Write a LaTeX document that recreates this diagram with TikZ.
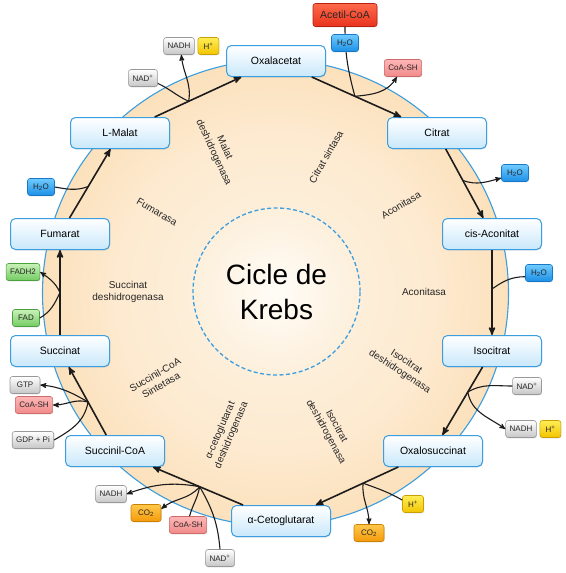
\documentclass[tikz,border=0pt]{standalone}
\usepackage{fontspec}
\setmainfont{Liberation Sans}
\usepackage{tikz}
\usetikzlibrary{positioning, arrows, calc, shadows}

\definecolor{ringline}{HTML}{3A9EE0}
\definecolor{ringpale}{HTML}{FEF4E4}
\definecolor{ringmid}{HTML}{FDEAD0}
\definecolor{ringedge}{HTML}{F8C47C}
\definecolor{krebsin}{HTML}{FFFCF7}
\definecolor{krebsout}{HTML}{FDF0DC}
\definecolor{boxbot}{HTML}{C9E8FB}
\definecolor{arrowcol}{HTML}{1C1C1C}
\definecolor{graybot}{HTML}{C6C6C6}
\definecolor{grayrim}{HTML}{999999}
\definecolor{bluetop}{HTML}{6FCBFF}
\definecolor{bluebot}{HTML}{1C8FE6}
\definecolor{bluerim}{HTML}{1878C8}
\definecolor{redtop}{HTML}{FF6A4A}
\definecolor{redbot}{HTML}{E8321E}
\definecolor{redrim}{HTML}{B82010}
\definecolor{pinktop}{HTML}{FFB6B6}
\definecolor{pinkbot}{HTML}{F08A8A}
\definecolor{pinkrim}{HTML}{D06A6A}
\definecolor{yeltop}{HTML}{FFEE55}
\definecolor{yelbot}{HTML}{F2C400}
\definecolor{yelrim}{HTML}{C8A000}
\definecolor{greentop}{HTML}{C8F2B8}
\definecolor{greenbot}{HTML}{74CC62}
\definecolor{greenrim}{HTML}{4CA040}
\definecolor{orantop}{HTML}{FFC84A}
\definecolor{oranbot}{HTML}{F59A0A}
\definecolor{oranrim}{HTML}{CC8000}

\pgfdeclareradialshading{ringfill}{\pgfpoint{0bp}{0bp}}{%
  color(0bp)=(ringpale); color(17bp)=(ringmid); color(50bp)=(ringedge)}

\tikzset{
x=1pt, y=1pt, % one unit is one pixel of the drawing
>=stealth', % filled arrow heads
metab/.style={draw=ringline, line width=1pt, rounded corners=5pt, top color=white, bottom color=boxbot, minimum width=99pt, minimum height=31pt, font=\fontsize{10.5}{12}\selectfont, drop shadow={shadow xshift=0.6pt, shadow yshift=-0.9pt, opacity=0.3}}, % boxes on the ring
tag/.style={line width=0.6pt, rounded corners=2.5pt, minimum width=27pt, minimum height=17pt, inner xsep=4pt, inner ysep=0pt, text=black!85, font=\fontsize{8}{9}\selectfont, drop shadow={shadow xshift=0.5pt, shadow yshift=-0.8pt, opacity=0.3}}, % small molecules
graytag/.style={tag, draw=grayrim, top color=white, bottom color=graybot},
bluetag/.style={tag, draw=bluerim, top color=bluetop, bottom color=bluebot},
redtag/.style={tag, draw=redrim, top color=redtop, bottom color=redbot},
pinktag/.style={tag, draw=pinkrim, top color=pinktop, bottom color=pinkbot},
yeltag/.style={tag, draw=yelrim, top color=yeltop, bottom color=yelbot, minimum width=21pt},
greentag/.style={tag, draw=greenrim, top color=greentop, bottom color=greenbot},
orantag/.style={tag, draw=oranrim, top color=orantop, bottom color=oranbot, minimum width=30pt},
enz/.style={align=center, text=black!85, font=\fontsize{10}{12}\selectfont}, % enzyme names
main/.style={->, draw=arrowcol, line width=1.6pt}, % steps of the cycle
side/.style={draw=arrowcol, line width=1.1pt}, % molecules going in and out
}

\begin{document}
\begin{tikzpicture}
\useasboundingbox (0,0) rectangle (565,-573);

% ring and centre
\shadedraw[shading=ringfill, draw=ringline, line width=1.1pt] (275.5,-293) circle[radius=233pt];
\node[circle, draw=ringline, dash pattern=on 4pt off 2.5pt, line width=1.3pt, inner color=krebsin, outer color=krebsout,
      minimum size=167pt, align=center, font=\fontsize{28}{35}\selectfont] (krebs) at (276.5,-291.5) {Cicle de\\Krebs};

% enzymes
\node[enz, rotate=-65] (malatdh) at (219,-150) {Malat\\deshidrogenasa};
\node[enz, rotate=60] (citsin) at (326,-157) {Citrat sintasa};
\node[enz, rotate=30] (aconA) at (401,-205) {Aconitasa};
\node[enz] (aconB) at (424,-292) {Aconitasa};
\node[enz, rotate=-33] (isodhA) at (403,-367) {Isocitrat\\deshidrogenasa};
\node[enz, rotate=-61] (isodhB) at (331,-429) {Isocitrat\\deshidrogenasa};
\node[enz, rotate=67] (akgdh) at (226,-433) {α-cetoglutarat\\deshidrogenasa};
\node[enz, rotate=30] (succsyn) at (158,-380) {Succinil-CoA\\Sintetasa};
\node[enz] (succdh) at (128,-292) {Succinat\\deshidrogenasa};
\node[enz, rotate=-30] (fumarasa) at (157,-212) {Fumarasa};

% metabolites
\node[metab] (oxal) at (276,-61) {Oxalacetat};
\node[metab] (citr) at (437,-133) {Citrat};
\node[metab] (cisac) at (492,-234) {cis-Aconitat};
\node[metab] (isoc) at (492,-351) {Isocitrat};
\node[metab] (oxsuc) at (433,-451) {Oxalosuccinat};
\node[metab] (akg) at (281,-521) {α-Cetoglutarat};
\node[metab] (succoa) at (115,-451) {Succinil-CoA};
\node[metab] (succ) at (60,-351) {Succinat};
\node[metab] (fum) at (60,-234) {Fumarat};
\node[metab] (lmal) at (120,-133) {L-Malat};

\draw[main] (oxal) -- (citr);
\draw[main] (citr) -- (cisac);
\draw[main] (cisac) -- (isoc);
\draw[main] (isoc) -- (oxsuc);
\draw[main] (oxsuc) -- (akg);
\draw[main] (akg) -- (succoa);
\draw[main] (succoa) -- (succ);
\draw[main] (succ) -- (fum);
\draw[main] (fum) -- (lmal);
\draw[main] (lmal) -- (oxal);

% branch points
\coordinate (b1) at ($(oxal)!0.49!(citr)$);
\coordinate (b2) at ($(citr)!0.47!(cisac)$);
\coordinate (b3) at ($(cisac)!0.47!(isoc)$);
\coordinate (b4) at ($(isoc)!0.41!(oxsuc)$);
\coordinate (b5) at ($(oxsuc)!0.46!(akg)$);
\coordinate (b6) at ($(akg)!0.49!(succoa)$);
\coordinate (b7) at ($(succoa)!0.49!(succ)$);
\coordinate (b8) at ($(succ)!0.5!(fum)$);
\coordinate (b9) at ($(fum)!0.47!(lmal)$);
\coordinate (b10) at ($(lmal)!0.44!(oxal)$);

% small molecules
\node[redtag, minimum width=64pt, minimum height=23pt, font=\fontsize{10.5}{12}\selectfont] (acoa) at (345,-15) {Acetil-CoA};
\draw[side] (acoa) to[out=-90, in=105] (b1);
\node[bluetag] (h2oA) at (345,-43) {H\textsubscript{2}O};
\node[pinktag] (coaA) at (403,-68) {CoA-SH};
\node[bluetag] (h2oB) at (515,-173) {H\textsubscript{2}O};
\node[bluetag] (h2oC) at (539,-273) {H\textsubscript{2}O};
\node[graytag] (nadB) at (527,-386) {NAD\textsuperscript{+}};
\node[graytag] (nadhB) at (521,-429) {NADH};
\node[yeltag, right=3pt of nadhB] (hpB) {H\textsuperscript{+}};
\node[yeltag] (hpC) at (413,-504) {H\textsuperscript{+}};
\node[orantag] (co2A) at (369,-533) {CO\textsubscript{2}};
\node[graytag] (nadhC) at (111,-494) {NADH};
\node[orantag] (co2B) at (146,-513) {CO\textsubscript{2}};
\node[pinktag] (coaC) at (188,-525) {CoA-SH};
\node[graytag] (nadC) at (220,-558) {NAD\textsuperscript{+}};
\node[graytag, minimum width=30pt] (gtp) at (25,-385) {GTP};
\node[pinktag] (coaB) at (34,-405) {CoA-SH};
\node[graytag] (gdp) at (33,-440) {GDP + Pi};
\node[greentag] (fadh) at (23,-272) {FADH2};
\node[greentag] (fad) at (26,-318) {FAD};
\node[bluetag] (h2oD) at (41,-187) {H\textsubscript{2}O};
\node[graytag] (nadA) at (143,-78) {NAD\textsuperscript{+}};
\node[graytag] (nadhA) at (179,-46) {NADH};
\node[yeltag, right=3pt of nadhA] (hpA) {H\textsuperscript{+}};

\draw[side, ->] (b1) to[out=5, in=-120] (coaA.-125);
\draw[side, ->] (b2) to[out=-20, in=195] (h2oB.200);
\draw[side] (h2oC.195) to[out=180, in=35] (b3);
\draw[side] (nadB.west) to[out=180, in=30] (b4);
\draw[side, ->] (b4) to[out=-80, in=145] (nadhB.west);
\draw[side] (hpC.160) to[out=150, in=-20] (b5);
\draw[side, ->] (b5) to[out=-95, in=90] (co2A.north);
\draw[side, ->] (b6) to[out=170, in=20] (nadhC.east);
\draw[side, ->] (b6) to[out=-130, in=40] (co2B.15);
\draw[side] (coaC.80) to[out=75, in=-100] (b6);
\draw[side] (nadC.north) to[out=95, in=-60] (b6);
\draw[side, ->] (b7) to[out=150, in=-5] (gtp.east);
\draw[side, ->] (b7) to[out=165, in=0] (coaB.east);
\draw[side] (gdp.east) to[out=30, in=-100] (b7);
\draw[side, ->] (b8) to[out=115, in=-35] (fadh.east);
\draw[side] (fad.east) to[out=30, in=-115] (b8);
\draw[side] (h2oD.east) to[out=-10, in=200] (b9);
\draw[side] (nadA.-20) to[out=-25, in=155] (b10);
\draw[side, ->] (b10) to[out=80, in=-85] (nadhA.-75);
\end{tikzpicture}
\end{document}
